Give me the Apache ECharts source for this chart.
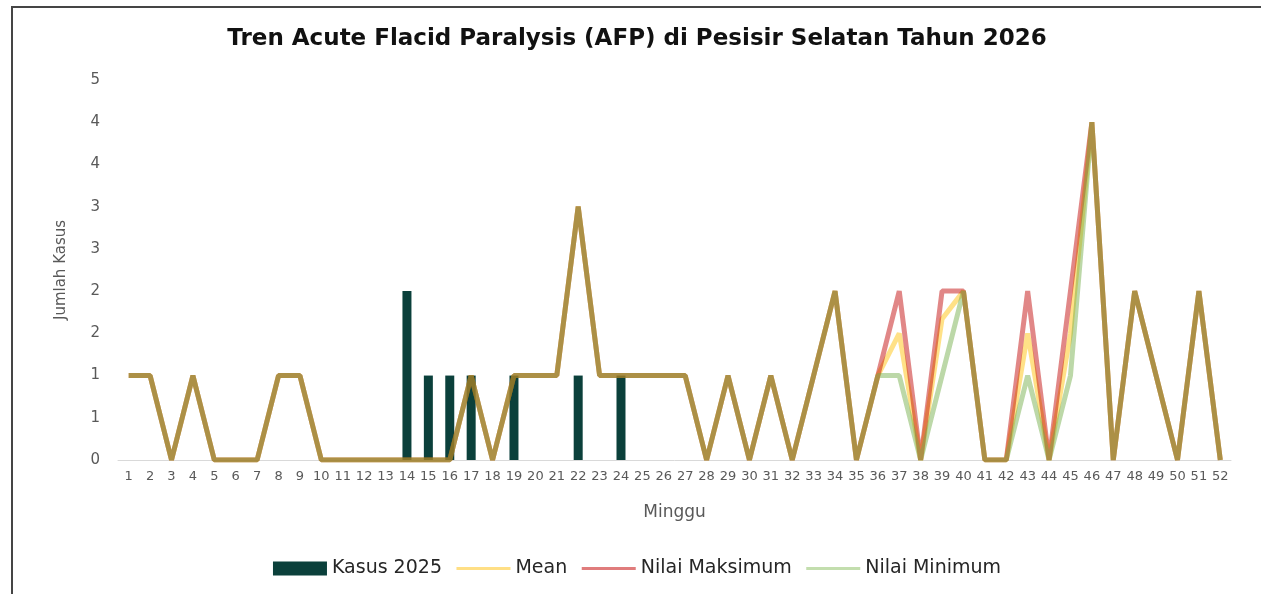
<!DOCTYPE html>
<html>
<head>
<meta charset="utf-8">
<script src="https://cdn.jsdelivr.net/npm/echarts@6/dist/echarts.min.js"></script>
<style>
  html, body { margin: 0; padding: 0; background: #ffffff; width: 1261px; height: 594px; overflow: hidden; }
  #frame { position: absolute; left: 11px; top: 6px; width: 1250px; height: 588px; border-left: 2px solid #454545; border-top: 2px solid #454545; box-sizing: border-box; }
  #chart { position: absolute; left: 0; top: 0; width: 1248px; height: 586px; }
</style>
</head>
<body>
<div id="frame"><div id="chart"></div></div>
<script>
// Categories: weeks 1..52
const weeks = ['1','2','3','4','5','6','7','8','9','10','11','12','13','14','15','16','17','18','19','20','21','22','23','24','25','26','27','28','29','30','31','32','33','34','35','36','37','38','39','40','41','42','43','44','45','46','47','48','49','50','51','52'];

// Kasus 2025 (bars)
const kasus2025 = [0,0,0,0,0,0,0,0,0,0,0,0,0,2,1,1,1,0,1,0,0,1,0,1,0,0,0,0,0,0,0,0,0,0,0,0,0,0,0,0,0,0,0,0,0,0,0,0,0,0,0,0];

// Mean
const meanVals = [1,1,0,1,0,0,0,1,1,0,0,0,0,0,0,0,1,0,1,1,1,3,1,1,1,1,1,0,1,0,1,0,1,2,0,1,1.5,0,1.67,2,0,0,1.5,0,1.5,4,0,2,1,0,2,0];

// Nilai Maksimum
const maxVals = [1,1,0,1,0,0,0,1,1,0,0,0,0,0,0,0,1,0,1,1,1,3,1,1,1,1,1,0,1,0,1,0,1,2,0,1,2,0,2,2,0,0,2,0,2,4,0,2,1,0,2,0];

// Nilai Minimum
const minVals = [1,1,0,1,0,0,0,1,1,0,0,0,0,0,0,0,1,0,1,1,1,3,1,1,1,1,1,0,1,0,1,0,1,2,0,1,1,0,1,2,0,0,1,0,1,4,0,2,1,0,2,0];

const titleText = 'Tren Acute Flacid Paralysis (AFP) di Pesisir Selatan Tahun 2026';
const seriesNames = ['Kasus 2025', 'Mean', 'Nilai Maksimum', 'Nilai Minimum'];

const chart = echarts.init(document.getElementById('chart'), null, { renderer: 'canvas' });
const FONT = '"DejaVu Sans", "Noto Sans", sans-serif';
const lineW = 5;
const alpha = 0.47;

chart.setOption({
  animation: false,
  backgroundColor: '#ffffff',
  textStyle: { fontFamily: FONT },
  title: {
    text: titleText,
    left: 'center',
    top: 15,
    textStyle: { fontFamily: FONT, fontSize: 23, fontWeight: 'bold', color: '#111111' }
  },
  legend: {
    data: [
      { name: seriesNames[0], icon: 'rect', itemStyle: { color: '#0B403B' } },
      { name: seriesNames[1], itemStyle: { opacity: 0 }, lineStyle: { color: '#FFDF85', width: 3, opacity: 1 } },
      { name: seriesNames[2], itemStyle: { opacity: 0 }, lineStyle: { color: '#E07C7C', width: 3, opacity: 1 } },
      { name: seriesNames[3], itemStyle: { opacity: 0 }, lineStyle: { color: '#C3DEAE', width: 3, opacity: 1 } }
    ],
    left: 'center',
    top: 546,
    itemWidth: 54,
    itemHeight: 14,
    itemGap: 13,
    textStyle: { fontFamily: FONT, fontSize: 19, color: '#262626' }
  },
  grid: { left: 105, right: 30, top: 72, bottom: 134, containLabel: false },
  xAxis: {
    type: 'category',
    data: weeks,
    boundaryGap: true,
    name: 'Minggu',
    nameLocation: 'middle',
    nameGap: 44,
    nameTextStyle: { fontFamily: FONT, fontSize: 17, color: '#595959' },
    axisLine: { show: true, lineStyle: { color: '#D9D9D9', width: 1 } },
    axisTick: { show: false },
    axisLabel: { interval: 0, margin: 10, fontFamily: FONT, fontSize: 13, color: '#595959' },
    splitLine: { show: false }
  },
  yAxis: {
    type: 'value',
    min: 0,
    max: 4.5,
    interval: 0.5,
    name: 'Jumlah Kasus',
    nameLocation: 'middle',
    nameGap: 49,
    nameTextStyle: { fontFamily: FONT, fontSize: 15, color: '#595959' },
    axisLine: { show: false },
    axisTick: { show: false },
    splitLine: { show: false },
    axisLabel: {
      margin: 18,
      fontFamily: FONT,
      fontSize: 15,
      color: '#595959',
      formatter: function (v) { return String(Math.round(v)); }
    }
  },
  series: [
    {
      name: seriesNames[0],
      type: 'bar',
      data: kasus2025,
      barWidth: 9,
      itemStyle: { color: '#0B403B' },
      z: 1
    },
    {
      name: seriesNames[1],
      type: 'line',
      data: meanVals,
      symbol: 'none',
      showSymbol: false,
      lineStyle: { color: '#FFC000', width: lineW, opacity: alpha },
      z: 2
    },
    {
      name: seriesNames[2],
      type: 'line',
      data: maxVals,
      symbol: 'none',
      showSymbol: false,
      lineStyle: { color: '#C00000', width: lineW, opacity: alpha },
      z: 3
    },
    {
      name: seriesNames[3],
      type: 'line',
      data: minVals,
      symbol: 'none',
      showSymbol: false,
      lineStyle: { color: '#70AD47', width: lineW, opacity: alpha },
      z: 4
    }
  ]
});
</script>
</body>
</html>
